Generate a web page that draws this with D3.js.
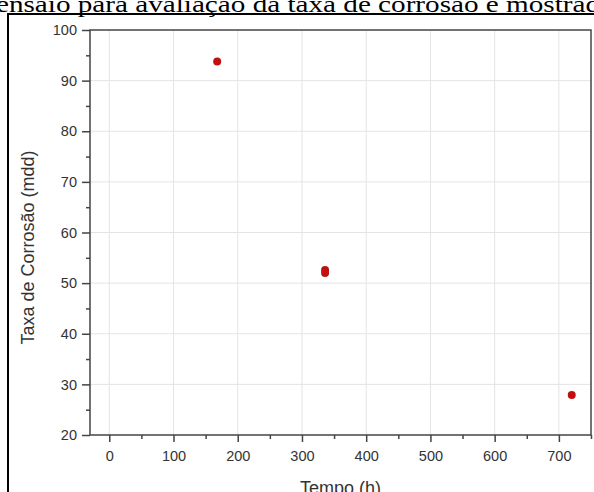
<!DOCTYPE html>
<html lang="pt">
<head>
<meta charset="UTF-8">
<title>Taxa de Corrosão</title>
<script src="https://d3js.org/d3.v7.min.js"></script>
<style>
  body { margin: 0; background: #fff; }
  svg { display: block; }
  .tick text { font-family: "Liberation Sans", Arial, sans-serif; fill: #333; }
</style>
</head>
<body>
<div id="chart"></div>
<script>
// data
const tempo = [168, 336, 336, 720];
const taxa = [93.8, 52.6, 52.0, 27.9];
const xTicks = [0, 100, 200, 300, 400, 500, 600, 700];
const xMinor = [50, 150, 250, 350, 450, 550, 650, 750];
const yTicks = [20, 30, 40, 50, 60, 70, 80, 90, 100];
const yMinor = [25, 35, 45, 55, 65, 75, 85, 95];

const W = 594, H = 492;
const plotLeft = 90, plotRight = 591, plotTop = 30, plotBottom = 435;

const svg = d3.select("#chart").append("svg")
  .attr("width", W).attr("height", H);

// caption text from the document, cut off at the top (as in the scan)
svg.append("text")
  .attr("x", -4).attr("y", 12)
  .attr("textLength", 604)
  .attr("lengthAdjust", "spacingAndGlyphs")
  .style("font-family", "'Liberation Serif', 'Times New Roman', serif")
  .style("font-size", "24px")
  .text("ensaio para avaliação da taxa de corrosão e mostrad");

// black frame around the figure
svg.append("rect")
  .attr("x", 8).attr("y", 14)
  .attr("width", 600).attr("height", 500)
  .attr("fill", "none").attr("stroke", "#000").attr("stroke-width", 2);

const x = d3.scaleLinear().domain([-30, 750]).range([plotLeft, plotRight]);
const y = d3.scaleLinear().domain([20, 100]).range([plotBottom, plotTop]);

// grid
const grid = svg.append("g").attr("stroke", "#e4e4e4").attr("stroke-width", 1);
grid.selectAll(".gx").data(xTicks).join("line")
  .attr("x1", d => x(d)).attr("x2", d => x(d))
  .attr("y1", plotTop).attr("y2", plotBottom);
grid.selectAll(".gy").data(yTicks.slice(1, -1)).join("line")
  .attr("x1", plotLeft).attr("x2", plotRight)
  .attr("y1", d => y(d)).attr("y2", d => y(d));

// axes
const axisColor = "#444";
const xAxis = svg.append("g").attr("transform", `translate(0,${plotBottom})`)
  .call(d3.axisBottom(x).tickValues(xTicks).tickSize(7).tickPadding(9));
const xAxisMinor = svg.append("g").attr("transform", `translate(0,${plotBottom})`)
  .call(d3.axisBottom(x).tickValues(xMinor).tickSize(4).tickFormat(""));
const yAxis = svg.append("g").attr("transform", `translate(${plotLeft},0)`)
  .call(d3.axisLeft(y).tickValues(yTicks).tickSize(8).tickPadding(5));
const yAxisMinor = svg.append("g").attr("transform", `translate(${plotLeft},0)`)
  .call(d3.axisLeft(y).tickValues(yMinor).tickSize(4).tickFormat(""));

[xAxis, xAxisMinor, yAxis, yAxisMinor].forEach(g => {
  g.select(".domain").remove();
  g.selectAll("line").attr("stroke", axisColor).attr("stroke-width", 1.5);
  g.selectAll("text").style("font-size", "14.5px");
});

// plot frame
svg.append("rect")
  .attr("x", plotLeft).attr("y", plotTop)
  .attr("width", plotRight - plotLeft).attr("height", plotBottom - plotTop)
  .attr("fill", "none").attr("stroke", axisColor).attr("stroke-width", 1.5);

// points
svg.append("g").selectAll("circle").data(tempo).join("circle")
  .attr("cx", d => x(d))
  .attr("cy", (d, i) => y(taxa[i]))
  .attr("r", 4)
  .attr("fill", "#c01010");

// axis titles
svg.append("text")
  .attr("transform", `translate(34,${(plotTop + plotBottom) / 2 + 15}) rotate(-90)`)
  .attr("text-anchor", "middle")
  .style("font-family", "'Liberation Sans', Arial, sans-serif")
  .style("font-size", "18px").style("fill", "#333")
  .text("Taxa de Corrosão (mdd)");

svg.append("text")
  .attr("x", (plotLeft + plotRight) / 2).attr("y", 494)
  .attr("text-anchor", "middle")
  .style("font-family", "'Liberation Sans', Arial, sans-serif")
  .style("font-size", "18px").style("fill", "#333")
  .text("Tempo (h)");
</script>
</body>
</html>
